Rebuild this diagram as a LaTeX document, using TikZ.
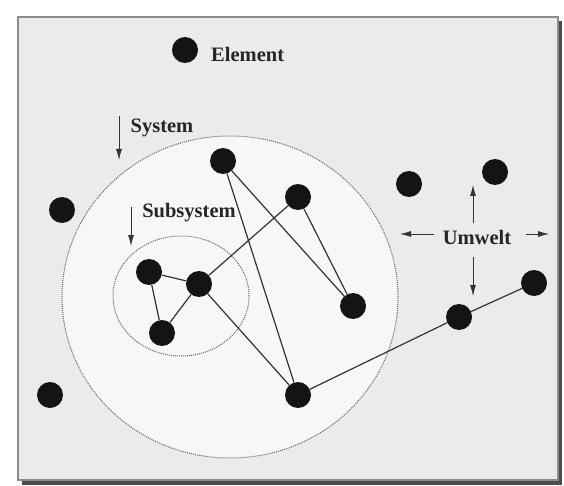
\documentclass[tikz,border=0pt]{standalone}
\usepackage{fontspec}
\setmainfont{Liberation Serif}
\usetikzlibrary{arrows.meta}
\begin{document}
\begin{tikzpicture}[x=1pt,y=-1pt,
  dot/.style={circle,fill=black!92,draw=none,minimum size=26pt,inner sep=0pt},
  lbl/.style={font=\fontsize{20.5}{24}\selectfont\bfseries,text=black!85,inner sep=0pt},
  edge/.style={line width=1.2pt,draw=black!80},
  pointer/.style={line width=0.8pt,draw=black!80,-{Latex[length=11pt,width=6pt]}},
  bound/.style={densely dotted,line width=1pt,draw=black!60}]
\useasboundingbox (0,0) rectangle (564,486);
% frame with shadow
\fill[black!70] (22,21) rectangle (562,485);
\fill[black!8] (18,17) rectangle (558,480);
\draw[black!45,line width=1.2pt] (18,17) rectangle (558,480);
% system and subsystem
\fill[white!97!black] (230,297) ellipse (168pt and 161pt);
\draw[bound] (230,297) ellipse (168pt and 161pt);
\draw[bound] (181,296) ellipse (68pt and 60pt);
% nodes
\node[dot] (el) at (185,50) {};
\node[lbl,anchor=west] (elt) at (211,54) {Element};
\node[dot] (a) at (223,161) {};
\node[dot] (b) at (298,197) {};
\node[dot] (c) at (353,306) {};
\node[dot] (d) at (149,272) {};
\node[dot] (e) at (199,284) {};
\node[dot] (f) at (162,333) {};
\node[dot] (g) at (298,395) {};
\node[dot] (h) at (459,317) {};
\node[dot] (i) at (534,283) {};
\node[dot] (o1) at (62,210) {};
\node[dot] (o2) at (409,184) {};
\node[dot] (o3) at (495,172) {};
\node[dot] (o4) at (50,395) {};
% edges
\draw[edge] (a) -- (c);
\draw[edge] (a) -- (g);
\draw[edge] (b) -- (c);
\draw[edge] (b) -- (e);
\draw[edge] (d) -- (e);
\draw[edge] (d) -- (f);
\draw[edge] (f) -- (e);
\draw[edge] (e) -- (g);
\draw[edge] (g) -- (h);
\draw[edge] (h) -- (i);
% labels with pointers
\node[lbl] (sys) at (162,128) {System};
\coordinate (sysA) at (119,116);
\coordinate (sysB) at (119,160);
\draw[pointer] (sysA) -- (sysB);
\node[lbl] (sub) at (189,213) {Subsystem};
\coordinate (subA) at (131,207);
\coordinate (subB) at (131,246);
\draw[pointer] (subA) -- (subB);
\node[lbl] (um) at (477,237) {Umwelt};
\coordinate (uU) at (473,185);
\coordinate (uD) at (473,296);
\coordinate (uL) at (400,234);
\coordinate (uR) at (549,234);
\draw[pointer] (473,223) -- (uU);
\draw[pointer] (473,257) -- (uD);
\draw[pointer] (434,234) -- (uL);
\draw[pointer] (526,234) -- (uR);
\end{tikzpicture}
\end{document}
